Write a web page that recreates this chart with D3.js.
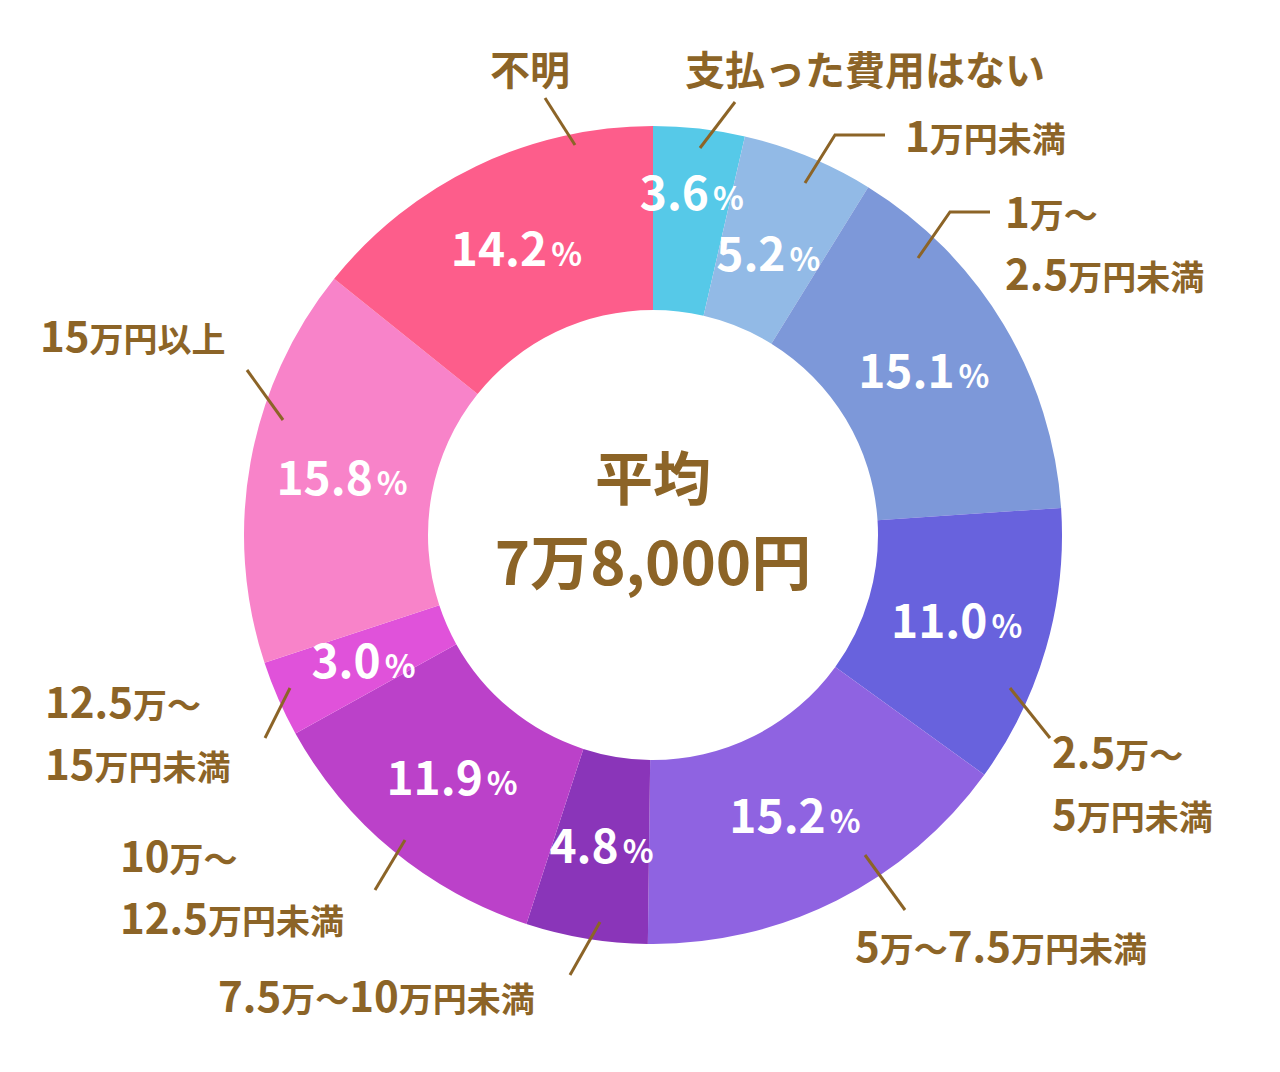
<!DOCTYPE html>
<html lang="ja">
<head>
<meta charset="UTF-8">
<script src="https://d3js.org/d3.v7.min.js"></script>
<style>
  body { margin: 0; background: #fff; }
  text { font-family: "Noto Sans CJK JP", sans-serif; font-weight: 700; }
</style>
</head>
<body>
<svg width="1280" height="1072"></svg>
<script>
// data, clockwise from 12 o'clock
const categories = ["支払った費用はない", "1万円未満", "1万～2.5万円未満", "2.5万～5万円未満",
  "5万～7.5万円未満", "7.5万～10万円未満", "10万～12.5万円未満", "12.5万～15万円未満",
  "15万円以上", "不明"];
const values = [3.6, 5.2, 15.1, 11.0, 15.2, 4.8, 11.9, 3.0, 15.8, 14.2];
const colors = ["#56c9e8", "#92bae6", "#7d98d9", "#6862dd", "#8f63e1", "#8a35b9",
  "#bb41c9", "#e052da", "#f883c9", "#fd5d8b"];
// label lines: [text, size] parts per line
const labelLines = [
  [[["支払った費用はない", 40]]],
  [[["1", 42], ["万円未満", 34]]],
  [[["1", 42], ["万～", 34]], [["2.5", 42], ["万円未満", 34]]],
  [[["2.5", 42], ["万～", 34]], [["5", 42], ["万円未満", 34]]],
  [[["5", 42], ["万～", 34], ["7.5", 42], ["万円未満", 34]]],
  [[["7.5", 42], ["万～", 34], ["10", 42], ["万円未満", 34]]],
  [[["10", 42], ["万～", 34]], [["12.5", 42], ["万円未満", 34]]],
  [[["12.5", 42], ["万～", 34]], [["15", 42], ["万円未満", 34]]],
  [[["15", 42], ["万円以上", 34]]],
  [[["不明", 40]]]
];

const svg = d3.select("svg");
const cx = 653, cy = 535, R = 409, r0 = 225;
const brown = "#8c6427";

const pie = d3.pie().sort(null).value(d => d);
const arcs = pie(values);
const arc = d3.arc().innerRadius(r0).outerRadius(R);

const g = svg.append("g").attr("transform", `translate(${cx},${cy})`);
g.selectAll("path").data(arcs).join("path")
  .attr("d", arc).attr("fill", (d, i) => colors[i]);

// percent labels
const pctR = [343, 303, 316, 316, 316, 316, 316, 316, 316, 316];
g.selectAll("text.pct").data(arcs).join("text")
  .attr("class", "pct")
  .attr("transform", (d, i) => {
    const a = (d.startAngle + d.endAngle) / 2;
    return `translate(${Math.sin(a) * pctR[i]},${-Math.cos(a) * pctR[i] + 16})`;
  })
  .attr("text-anchor", "middle").attr("fill", "#fff")
  .call(t => {
    t.append("tspan").attr("font-size", 46).text(d => d.value.toFixed(1));
    t.append("tspan").attr("font-size", 32).attr("dx", 4).text("%");
  });

// leader lines and labels: [line start, line end, elbow end, text x, text y, anchor]
const layout = [
  [[700, 148], [735, 102], null, 865, 85, "middle"],
  [[805, 183], [835, 135], [885, 135], 905, 152, "start"],
  [[918, 258], [950, 212], [990, 212], 1005, 228, "start"],
  [[1010, 688], [1050, 738], null, 1052, 768, "start"],
  [[865, 855], [905, 910], null, 855, 962, "start"],
  [[600, 922], [570, 975], null, 218, 1012, "start"],
  [[405, 840], [375, 890], null, 120, 872, "start"],
  [[290, 688], [265, 738], null, 45, 718, "start"],
  [[283, 420], [247, 370], null, 40, 352, "start"],
  [[575, 145], [545, 98], null, 530, 85, "middle"]
];

layout.forEach((L, i) => {
  const pts = [L[0], L[1]].concat(L[2] ? [L[2]] : []);
  svg.append("path").attr("d", d3.line()(pts))
    .attr("stroke", brown).attr("stroke-width", 3).attr("fill", "none");
  labelLines[i].forEach((line, j) => {
    const t = svg.append("text").attr("x", L[3]).attr("y", L[4] + j * 62)
      .attr("text-anchor", L[5]).attr("fill", brown);
    line.forEach(p => t.append("tspan").attr("font-size", p[1]).text(p[0]));
  });
});

// center
svg.append("text").attr("x", cx).attr("y", 500).attr("text-anchor", "middle")
  .attr("fill", brown).attr("font-size", 58).text("平均");
svg.append("text").attr("x", cx).attr("y", 585).attr("text-anchor", "middle")
  .attr("fill", brown).attr("font-size", 60).text("7万8,000円");
</script>
</body>
</html>
